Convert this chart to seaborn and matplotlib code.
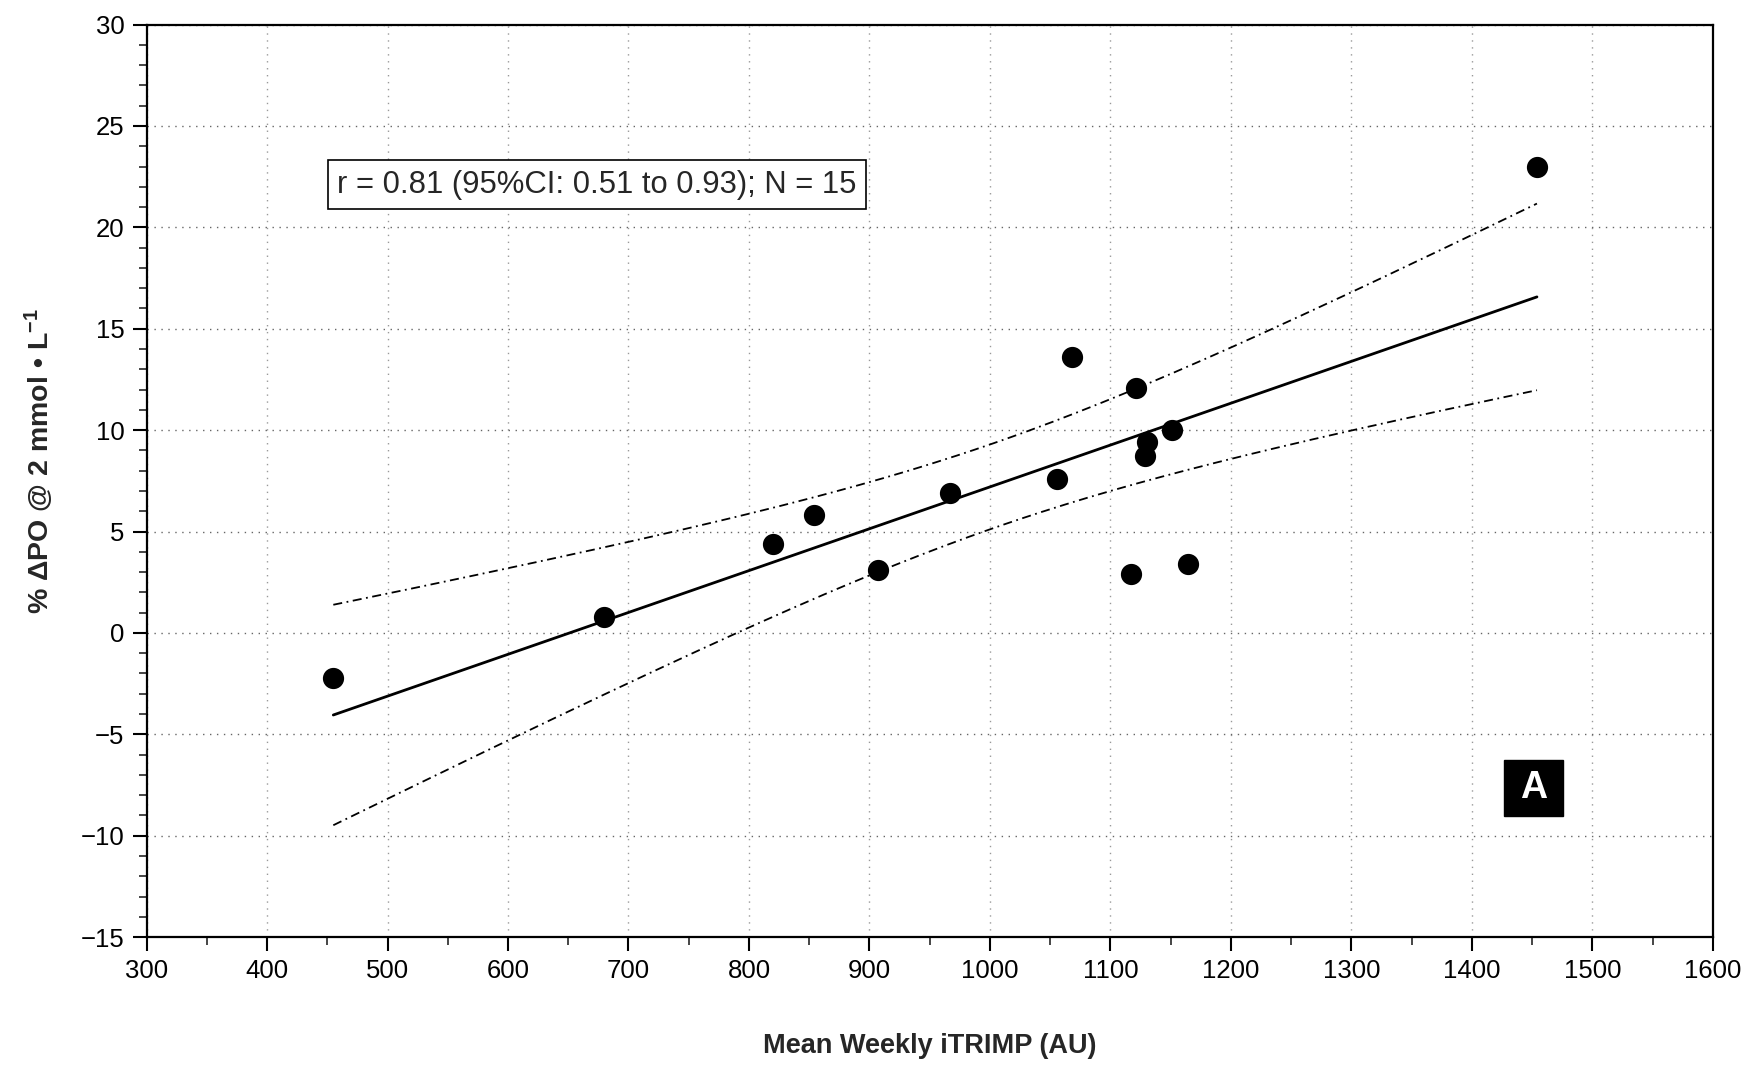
import numpy as np
import pandas as pd
import matplotlib
matplotlib.use("Agg")
import matplotlib.pyplot as plt
from matplotlib.ticker import MultipleLocator
from matplotlib.patches import Rectangle
import seaborn as sns

# ---- data ----
itrimp = [455, 680, 820, 854, 907, 967, 1056, 1068, 1121, 1117, 1130, 1129, 1151, 1164, 1454]
delta_po = [-2.2, 0.8, 4.4, 5.8, 3.1, 6.9, 7.6, 13.6, 12.1, 2.9, 9.4, 8.7, 10.0, 3.4, 23.0]
stats_text = "r = 0.81 (95%CI: 0.51 to 0.93); N = 15"
panel_label = "A"
x_label = "Mean Weekly iTRIMP (AU)"
y_label = "% \u0394PO @ 2 mmol \u2022 L$^{\\mathbf{-1}}$"

df = pd.DataFrame({"x": itrimp, "y": delta_po})

sns.set_theme(style="white")
plt.rcParams["font.family"] = ["Liberation Sans", "DejaVu Sans"]
plt.rcParams["mathtext.fontset"] = "custom"
plt.rcParams["mathtext.rm"] = "Liberation Sans"
plt.rcParams["mathtext.bf"] = "Liberation Sans:bold"
plt.rcParams["mathtext.it"] = "Liberation Sans:italic"

fig = plt.figure(figsize=(17.53, 10.68), dpi=100)
ax = fig.add_axes([0.0836, 0.1226, 0.8935, 0.8544])

# regression fit and 95% confidence limits of the mean
x = df["x"].to_numpy(float)
y = df["y"].to_numpy(float)
n = len(x)
b, a = np.polyfit(x, y, 1)
xs = np.linspace(x.min(), x.max(), 200)
fit = a + b * xs
resid = y - (a + b * x)
s = np.sqrt(np.sum(resid ** 2) / (n - 2))
tval = 2.160  # t(0.975, 13)
se = s * np.sqrt(1 / n + (xs - x.mean()) ** 2 / np.sum((x - x.mean()) ** 2))
band = pd.DataFrame({"x": xs, "fit": fit, "lo": fit - tval * se, "hi": fit + tval * se})

sns.lineplot(data=band, x="x", y="fit", ax=ax, color="black", lw=2.0)
sns.lineplot(data=band, x="x", y="hi", ax=ax, color="black", lw=1.3,
             linestyle=(0, (5, 2.5, 1, 2.5)))
sns.lineplot(data=band, x="x", y="lo", ax=ax, color="black", lw=1.3,
             linestyle=(0, (5, 2.5, 1, 2.5)))
sns.scatterplot(data=df, x="x", y="y", ax=ax, color="black", s=200,
                edgecolor="black", zorder=5)

ax.set_xlim(300, 1600)
ax.set_ylim(-15, 30)
ax.xaxis.set_major_locator(MultipleLocator(100))
ax.xaxis.set_minor_locator(MultipleLocator(50))
ax.yaxis.set_major_locator(MultipleLocator(5))
ax.yaxis.set_minor_locator(MultipleLocator(1))
ax.set_yticks(ax.get_yticks())
ax.set_yticklabels([f"{int(v)}".replace("-", "\u2212") for v in ax.get_yticks()])
ax.set_ylim(-15, 30)

ax.grid(True, which="major", axis="y", color="0.4", linestyle=(0, (1, 4)), lw=1.0)
ax.grid(True, which="major", axis="x", color="0.6", linestyle=(0, (1, 4)), lw=1.0)
for sp in ax.spines.values():
    sp.set_visible(True)
    sp.set_color("black")
    sp.set_linewidth(1.6)

ax.tick_params(axis="both", which="major", direction="out", length=10, width=1.5,
               labelsize=18.5, colors="black", pad=6, left=True, bottom=True)
ax.tick_params(axis="both", which="minor", direction="out", length=6, width=1.2,
               left=True, bottom=True)

ax.set_xlabel(x_label, fontsize=19.5, fontweight="bold", labelpad=36)
ax.set_ylabel(y_label, fontsize=20.5, fontweight="bold")
ax.yaxis.set_label_coords(-0.058, 0.522)

ax.text(458, 22.1, stats_text, fontsize=22.3, va="center", ha="left",
        bbox=dict(boxstyle="square,pad=0.3", fc="white", ec="black", lw=1.2))
ax.add_patch(Rectangle((1426.5, -9.05), 49.1, 2.76, fc="black", ec="black", zorder=6))
ax.text(1451, -7.67, panel_label, fontsize=27, fontweight="bold", color="white",
        ha="center", va="center", zorder=7)

fig.savefig("out.png", dpi=100)
